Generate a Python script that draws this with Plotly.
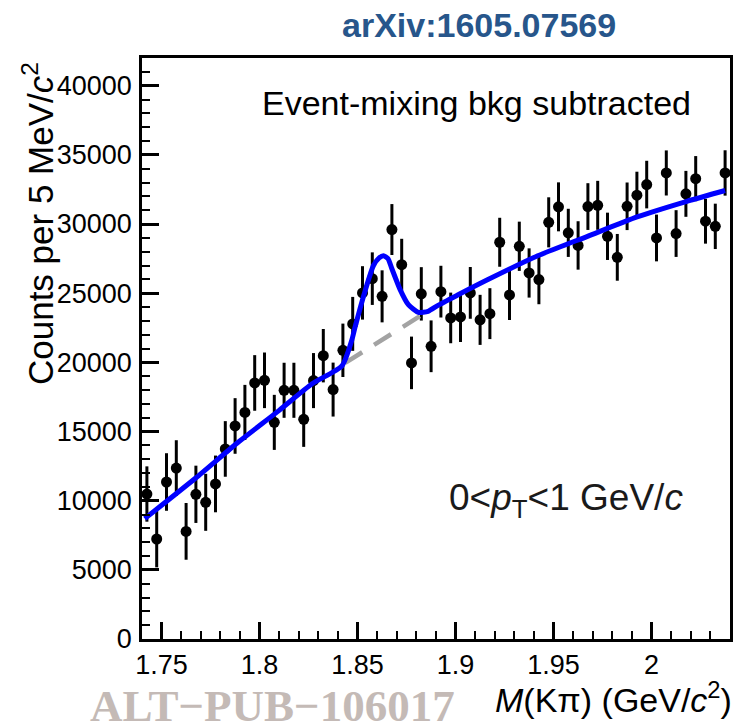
import plotly.graph_objects as go

# Invariant-mass bin centres (5 MeV bins) and background-subtracted counts
mass = [1.7425, 1.7475, 1.7525, 1.7575, 1.7625, 1.7675, 1.7725, 1.7775, 1.7825, 1.7875,
        1.7925, 1.7975, 1.8025, 1.8075, 1.8125, 1.8175, 1.8225, 1.8275, 1.8325, 1.8375,
        1.8425, 1.8475, 1.8525, 1.8575, 1.8625, 1.8675, 1.8725, 1.8775, 1.8825, 1.8875,
        1.8925, 1.8975, 1.9025, 1.9075, 1.9125, 1.9175, 1.9225, 1.9275, 1.9325, 1.9375,
        1.9425, 1.9475, 1.9525, 1.9575, 1.9625, 1.9675, 1.9725, 1.9775, 1.9825, 1.9875,
        1.9925, 1.9975, 2.0025, 2.0075, 2.0125, 2.0175, 2.0225, 2.0275, 2.0325, 2.0375]

counts = [10480, 7230, 11350, 12360, 7780, 10460, 9880, 11210, 13740, 15400,
          16380, 18510, 18700, 15660, 17980, 17980, 15880, 18680, 20480, 18030,
          20870, 22780, 25020, 26050, 24770, 29600, 27060, 19960, 24950, 21160,
          25110, 23210, 23280, 25020, 23070, 23520, 28680, 24870, 28390, 26460,
          25980, 30120, 31240, 29360, 28450, 31260, 31350, 29110, 27590, 31280,
          32080, 32850, 28990, 33690, 29310, 32180, 33280, 30200, 29830, 33690]

errors = [2000, 2050, 2080, 2010, 2050, 2070, 2060, 2050, 2010, 2010,
          1990, 2010, 2010, 1990, 1990, 1990, 1990, 1990, 1930, 1950,
          1930, 1950, 1930, 1900, 1880, 1840, 1870, 1900, 1930, 1870,
          1870, 1830, 1810, 1870, 1810, 1840, 1770, 1810, 1780, 1780,
          1780, 1810, 1770, 1740, 1750, 1690, 1770, 1710, 1690, 1720,
          1700, 1720, 1690, 1630, 1690, 1660, 1630, 1620, 1640, 1640]

# Total fit (signal + residual background)
fit_mass = [1.7414, 1.7674, 1.7886, 1.8100, 1.8268, 1.8420, 1.8471, 1.8488, 1.8539,
            1.8581, 1.8610, 1.8632, 1.8655, 1.8674, 1.8717, 1.8759, 1.8810, 1.8860,
            1.8908, 1.9013, 1.9165, 1.9419, 1.9673, 1.9926, 2.0180, 2.0375]
fit_counts = [8700, 11640, 14170, 16530, 18450, 19750, 21640, 22600, 25200,
              27000, 27550, 27700, 27500, 26800, 25260, 24170, 23610, 23690,
              24100, 24880, 25980, 27700, 29110, 30510, 31640, 32420]

# Residual background under the peak
bkg_mass = [1.8437, 1.8632, 1.8844]
bkg_counts = [19960, 21690, 23570]

x_ticks = [1.75, 1.80, 1.85, 1.90, 1.95, 2.00]
x_tick_text = ["1.75", "1.8", "1.85", "1.9", "1.95", "2"]

FONT = "Liberation Sans, Arial, Helvetica, sans-serif"

fig = go.Figure()

fig.add_trace(go.Scatter(
    x=mass, y=counts, mode="markers",
    marker=dict(color="black", size=11, symbol="circle"),
    error_y=dict(type="data", array=errors, visible=True, color="black",
                 thickness=3, width=0),
    showlegend=False, hoverinfo="skip",
))

fig.add_trace(go.Scatter(
    x=bkg_mass, y=bkg_counts, mode="lines",
    line=dict(color="#a3a3a3", width=4.5, dash="20px,14px"),
    showlegend=False, hoverinfo="skip",
))

fig.add_trace(go.Scatter(
    x=fit_mass, y=fit_counts, mode="lines",
    line=dict(color="#0000ff", width=5, shape="spline", smoothing=0.6),
    showlegend=False, hoverinfo="skip",
))

axis_common = dict(
    showline=True, linecolor="black", linewidth=2.5, mirror=True,
    showgrid=False, zeroline=False, ticks="inside", tickcolor="black",
    tickwidth=2.5, ticklen=17,
    tickfont=dict(family=FONT, size=27, color="black"),
)

fig.update_xaxes(
    range=[1.74, 2.04], tickmode="array", tickvals=x_ticks, ticktext=x_tick_text,
    minor=dict(tickmode="linear", tick0=1.74, dtick=0.01, ticks="inside",
               ticklen=8, tickwidth=2, tickcolor="black"),
    ticklabelstandoff=0,
    **axis_common,
)
fig.update_yaxes(
    range=[0, 42000], tickmode="linear", tick0=0, dtick=5000, tickformat="d",
    minor=dict(tickmode="linear", tick0=0, dtick=1000, ticks="inside",
               ticklen=8, tickwidth=2, tickcolor="black"),
    ticklabelstandoff=2,
    **axis_common,
)

L, R, T, B = 142, 12, 58, 82
W, H = 745, 721
pw, ph = W - L - R, H - T - B


def px(xp):
    return (xp - L) / pw


def py(yp):
    return (H - B - yp) / ph


annotations = [
    dict(text="<b>arXiv:1605.07569</b>", x=px(481), y=py(25),
         font=dict(family=FONT, size=34, color="#27568b")),
    dict(text="Event-mixing bkg subtracted", x=px(478), y=py(103),
         font=dict(family=FONT, size=34, color="black")),
    dict(text="0&lt;<i>p</i><sub>T</sub>&lt;1 GeV/<i>c</i>", x=px(568), y=py(500),
         font=dict(family=FONT, size=37, color="#1a1a1a")),
    dict(text="Counts per 5 MeV/<i>c</i><sup>2</sup>", x=px(38), y=py(60),
         textangle=-90, yanchor="top",
         font=dict(family=FONT, size=35, color="black")),
    dict(text="<i>M</i>(Kπ) (GeV/<i>c</i><sup>2</sup>)", x=px(737), y=py(697),
         xanchor="right",
         font=dict(family=FONT, size=34, color="black")),
    dict(text="<b>ALT−PUB−106017</b>", x=px(88), y=py(706), xanchor="left",
         font=dict(family="Liberation Serif, Times New Roman, serif", size=45,
                   color="#c4bab6")),
]
for a in annotations:
    a.setdefault("xanchor", "center")
    a.setdefault("yanchor", "middle")
    fig.add_annotation(xref="paper", yref="paper", showarrow=False, **a)

fig.update_layout(
    width=W, height=H,
    margin=dict(l=L, r=R, t=T, b=B),
    paper_bgcolor="white", plot_bgcolor="white",
    showlegend=False,
)

fig.write_html("out.html")
